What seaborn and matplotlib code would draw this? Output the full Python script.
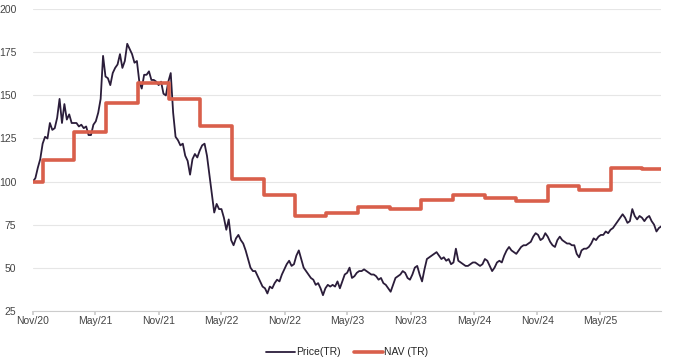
import numpy as np
import pandas as pd
import seaborn as sns
import matplotlib.dates as mdates
from matplotlib import pyplot as plt

sns.set_theme(style="white")
plt.rcParams["font.family"] = ["Liberation Sans", "DejaVu Sans"]

# weekly share price (total return, rebased to 100)
price_start = "2020-11-01"
price = [
    100, 102, 108, 113, 122, 126, 125, 134, 130, 131, 137, 148, 134, 145, 136, 139,
    134, 134, 134, 132, 133, 131, 132, 127, 127, 133, 135, 140, 148, 173, 161, 160,
    156, 163, 166, 168, 174, 166, 170, 180, 177, 174, 169, 170, 158, 154, 162, 162,
    164, 159, 159, 158, 156, 158, 151, 150, 158, 163, 140, 126, 124, 121, 122, 115,
    112, 104, 113, 116, 114, 118, 121, 122, 115, 104, 93, 82, 87, 84, 84, 79,
    72, 78, 66, 63, 67, 69, 66, 64, 60, 55, 50, 48, 48, 45, 42, 39,
    38, 35, 39, 38, 41, 43, 42, 46, 49, 52, 54, 51, 52, 57, 60, 55,
    50, 48, 46, 44, 43, 40, 41, 38, 34, 38, 40, 39, 40, 39, 42, 38,
    42, 46, 47, 50, 44, 45, 47, 48, 48, 49, 48, 47, 46, 46, 45, 43,
    44, 41, 40, 38, 36, 40, 44, 45, 46, 48, 47, 44, 43, 46, 50, 51,
    46, 42, 49, 55, 56, 57, 58, 59, 57, 55, 56, 54, 55, 52, 53, 61,
    54, 53, 52, 51, 51, 52, 53, 53, 52, 51, 52, 55, 54, 51, 48, 50,
    53, 54, 53, 57, 60, 62, 60, 59, 58, 60, 62, 63, 63, 64, 65, 68,
    70, 69, 66, 67, 70, 68, 65, 63, 62, 66, 68, 66, 65, 64, 64, 63,
    63, 58, 56, 60, 61, 61, 62, 64, 67, 66, 68, 69, 69, 71, 70, 72,
    73, 75, 77, 79, 81, 79, 76, 77, 84, 80, 78, 80, 79, 77, 79, 80,
    77, 75, 71, 73, 74,
]

# quarterly NAV (total return) step values
nav_dates = [
    "2020-11-01", "2020-12-01", "2021-03-01", "2021-06-01", "2021-09-01",
    "2021-12-01", "2022-03-01", "2022-06-01", "2022-09-01", "2022-12-01",
    "2023-03-01", "2023-06-01", "2023-09-01", "2023-12-01", "2024-03-01",
    "2024-06-01", "2024-09-01", "2024-12-01", "2025-03-01", "2025-06-01",
    "2025-09-01", "2025-10-26",
]
nav = [
    100, 112.5, 128.5, 145.5, 157, 148, 132, 101.5, 92, 80,
    81.5, 85, 84, 89.5, 92, 90.5, 88.5, 97.5, 95, 108,
    107, 107,
]

price_df = pd.DataFrame({
    "date": pd.date_range(price_start, periods=len(price), freq="7D"),
    "value": price,
})
nav_df = pd.DataFrame({"date": pd.to_datetime(nav_dates), "value": nav})

fig = plt.figure(figsize=(6.8, 3.6), dpi=100)
ax = fig.add_axes([0.0485, 0.137, 0.924, 0.837])

sns.lineplot(data=price_df, x="date", y="value", ax=ax, color="#2b1d3a",
             linewidth=1.3, label="Price(TR)")
sns.lineplot(data=nav_df, x="date", y="value", ax=ax, color="#d95f4b",
             linewidth=2.6, drawstyle="steps-post", label="NAV (TR)")

ax.set_ylim(25, 200)
ax.set_yticks(np.arange(25, 201, 25))
ax.set_xlim(pd.Timestamp("2020-11-01"), pd.Timestamp("2025-10-26"))
ax.xaxis.set_major_locator(mdates.MonthLocator(bymonth=[5, 11]))
ax.xaxis.set_major_formatter(mdates.DateFormatter("%b/%y"))
ax.set_xlabel("")
ax.set_ylabel("")

ax.grid(axis="y", color="#e6e6e6", linewidth=0.8)
ax.set_axisbelow(True)
for s in ["top", "right", "left"]:
    ax.spines[s].set_visible(False)
ax.spines["bottom"].set_color("#cccccc")
ax.spines["bottom"].set_linewidth(0.8)
ax.tick_params(axis="x", bottom=True, length=3, color="#cccccc",
               labelsize=7.5, labelcolor="#444444", pad=1)
ax.tick_params(axis="y", left=False, labelsize=7.5, labelcolor="#444444", pad=6)

ax.legend(loc="upper center", bbox_to_anchor=(0.5, -0.09), ncol=2,
          frameon=False, fontsize=7.5, handlelength=2.8, columnspacing=1.2,
          handletextpad=0.1)

fig.savefig("out.png", dpi=100)
